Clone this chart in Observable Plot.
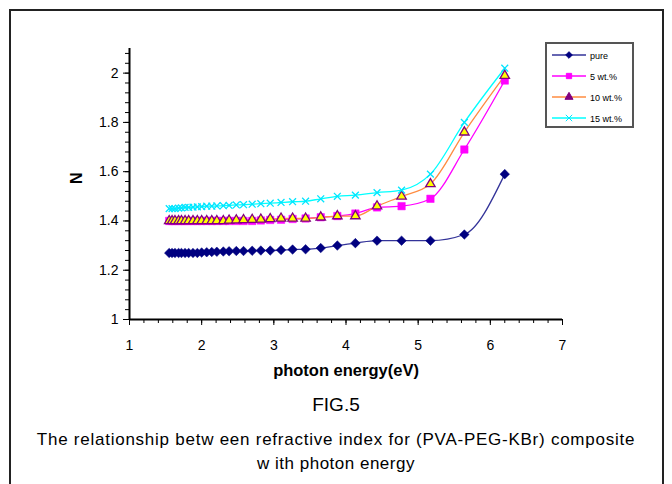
<!DOCTYPE html>
<html><head><meta charset="utf-8">
<script src="https://cdn.jsdelivr.net/npm/d3@7"></script>
<script src="https://cdn.jsdelivr.net/npm/@observablehq/plot@0.6"></script>
<style>
body{margin:0;background:#fff;font-family:"Liberation Sans",Arial,sans-serif;}
#wrap{position:relative;width:672px;height:484px;overflow:hidden;}
#frame{position:absolute;left:9px;top:9px;width:651px;height:490px;border:2px solid #222;}
#plot{position:absolute;left:0;top:0;}
.cap{position:absolute;left:0;width:672px;text-align:center;color:#000;white-space:nowrap;}
#legend{position:absolute;left:545px;top:42px;width:85px;height:82px;border:2px solid #555;background:#fff;}
</style></head>
<body>
<div id="wrap">
  <div id="frame"></div>
  <div id="plot"></div>
  <div id="legend"></div>
  <div class="cap" style="top:394px;font-size:19px;">FIG.5</div>
  <div class="cap" style="top:430px;font-size:17px;letter-spacing:0.75px;">The relationship betw een refractive index for (PVA-PEG-KBr) composite</div>
  <div class="cap" style="top:454px;font-size:17px;letter-spacing:0.5px;">w ith photon energy</div>
</div>
<script>
// photon energy (eV)
const energy = [1.55,1.59,1.63,1.68,1.72,1.77,1.82,1.88,1.94,2.00,2.07,2.14,2.21,2.30,2.38,2.48,2.58,2.70,2.82,2.95,3.10,3.26,3.44,3.65,3.88,4.13,4.43,4.77,5.17,5.64,6.20];
const pure   = [1.27,1.27,1.27,1.27,1.27,1.27,1.27,1.27,1.27,1.272,1.273,1.274,1.275,1.276,1.277,1.278,1.278,1.279,1.28,1.28,1.282,1.284,1.285,1.29,1.30,1.31,1.32,1.32,1.32,1.345,1.59];
const wt5    = [1.40,1.40,1.40,1.40,1.40,1.40,1.40,1.40,1.40,1.40,1.40,1.40,1.40,1.40,1.40,1.40,1.40,1.40,1.402,1.404,1.405,1.408,1.41,1.415,1.42,1.43,1.455,1.46,1.49,1.69,1.97];
const wt10   = [1.40,1.40,1.40,1.40,1.40,1.40,1.40,1.40,1.40,1.40,1.40,1.40,1.40,1.40,1.402,1.403,1.404,1.405,1.406,1.408,1.41,1.41,1.41,1.415,1.42,1.42,1.46,1.50,1.55,1.76,1.99];
const wt15   = [1.45,1.45,1.45,1.452,1.453,1.455,1.455,1.456,1.457,1.458,1.46,1.46,1.461,1.462,1.463,1.465,1.466,1.468,1.47,1.472,1.475,1.478,1.48,1.49,1.50,1.505,1.515,1.525,1.59,1.80,2.02];
const seriesNames = ["pure","5 wt.%","10 wt.%","15 wt.%"];
const xTicks = [1,2,3,4,5,6,7];
const yTicks = [1,1.2,1.4,1.6,1.8,2];

const tbl = (vals) => energy.map((e,i)=>({x:e,y:vals[i]}));
const data = [tbl(pure), tbl(wt5), tbl(wt10), tbl(wt15)];

const style = [
  {line:"#333399", sym:"diamond2", fill:"#000080", stroke:"#000080", r:4.3, sw:0.5},
  {line:"#ff00ff", sym:"square", fill:"#ff00ff", stroke:"#ff00ff", r:4.2, sw:0.5},
  {line:"#ff8c40", sym:"triangle", fill:"#ffff00", stroke:"#800080", r:3.5, sw:1.3},
  {line:"#00ffff", sym:"times", fill:"none", stroke:"#00e5ff", r:3.2, sw:1.3}
];

const xMinor = d3.range(1,7.001,0.2).map(v=>+v.toFixed(2));
const yMinor = d3.range(1,2.101,0.04).map(v=>+v.toFixed(2));

const marks = [
  Plot.axisX({ticks:xMinor, tickSize:4, text:null, label:null, stroke:"#000"}),
  Plot.axisX({ticks:xTicks, tickSize:6, tickPadding:15, tickFormat:d=>String(d), fontSize:14, label:null, stroke:"#000"}),
  Plot.axisY({ticks:yMinor, tickSize:4, text:null, label:null, stroke:"#000"}),
  Plot.axisY({ticks:yTicks, tickSize:6, tickPadding:5, tickFormat:d=>String(d), fontSize:14, label:null, stroke:"#000"}),
  Plot.ruleX([1],{stroke:"#000", strokeWidth:2}),
  Plot.ruleY([1],{stroke:"#000", strokeWidth:2}),
  Plot.text(["photon energy(eV)"],{frameAnchor:"bottom", dy:56, fontWeight:"bold", fontSize:16.5}),
  Plot.text(["N"],{frameAnchor:"left", dx:-53, dy:0, rotate:-90, fontWeight:"bold", fontSize:16})
];
data.forEach((d,i)=>{
  const s = style[i];
  marks.push(Plot.line(d,{x:"x",y:"y",stroke:s.line,strokeWidth:1.3,curve:"monotone-x"}));
});
data.forEach((d,i)=>{
  const s = style[i];
  marks.push(Plot.dot(d,{x:"x",y:"y",symbol:()=>s.sym,r:s.r,fill:s.fill,stroke:s.stroke,strokeWidth:s.sw}));
});

const chart = Plot.plot({
  width:672, height:395,
  marginLeft:129, marginRight:110, marginTop:48, marginBottom:76,
  x:{domain:[1,7], label:null}, y:{domain:[1,2.1], label:null},
  style:{fontFamily:"'Liberation Sans', Arial, sans-serif", color:"#000", background:"transparent", overflow:"visible"},
  marks
});
document.getElementById("plot").appendChild(chart);

// legend
const lg = d3.select("#legend").append("svg").attr("width",85).attr("height",82);
const symMap = {diamond2:d3.symbolDiamond2, square:d3.symbolSquare, triangle:d3.symbolTriangle, times:d3.symbolTimes};
seriesNames.forEach((name,i)=>{
  const s = style[i];
  const y = 11 + i*21;
  lg.append("line").attr("x1",5).attr("x2",39).attr("y1",y).attr("y2",y).attr("stroke",s.line).attr("stroke-width",1.5);
  lg.append("path").attr("d", d3.symbol(symMap[s.sym], 28)()).attr("transform",`translate(22,${y})`)
    .attr("fill", i===2 ? "#800080" : s.fill).attr("stroke", s.stroke).attr("stroke-width",1);
  lg.append("text").attr("x",43).attr("y",y+3.5).attr("font-size",9).attr("font-family","'Liberation Sans', Arial").text(name);
});
</script>
</body></html>
